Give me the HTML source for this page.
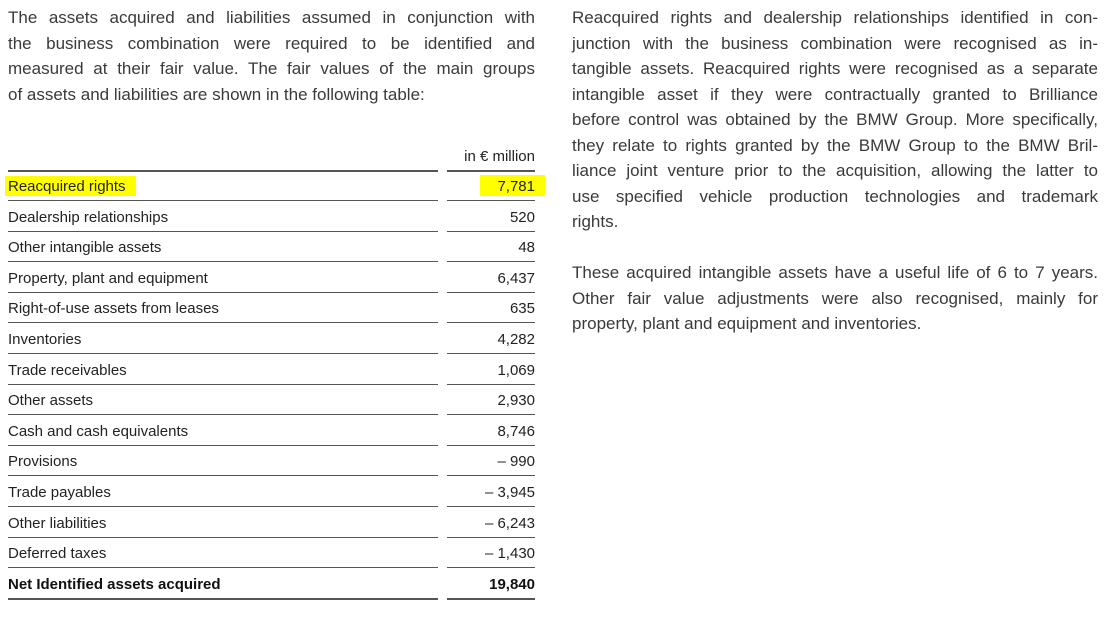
<!DOCTYPE html>
<html><head><meta charset="utf-8"><style>
body{margin:0;width:1110px;height:617px;background:#fff;font-family:"Liberation Sans",sans-serif;color:#333;position:relative;overflow:hidden}
.p{position:absolute;font-size:17px;line-height:25.5px;color:#3a3a3a}
.p span{display:block;text-align:justify;text-align-last:justify;white-space:nowrap}
.p span.l{text-align-last:left}
.row{position:absolute;left:8px;width:527px;height:30px;font-size:15px;color:#222}
.lab{position:absolute;left:0;top:0}
.val{position:absolute;right:0;top:0}
.ln{position:absolute;height:1px;background:#555}
</style></head><body>
<div class="p" style="left:8px;top:5px;width:527px">
<span>The assets acquired and liabilities assumed in conjunction with</span>
<span>the business combination were required to be identified and</span>
<span>measured at their fair value. The fair values of the main groups</span>
<span class="l">of assets and liabilities are shown in the following table:</span>
</div>
<div class="p" style="left:572px;top:5px;width:526px">
<span>Reacquired rights and dealership relationships identified in con-</span>
<span>junction with the business combination were recognised as in-</span>
<span>tangible assets. Reacquired rights were recognised as a separate</span>
<span>intangible asset if they were contractually granted to Brilliance</span>
<span>before control was obtained by the BMW Group. More specifically,</span>
<span>they relate to rights granted by the BMW Group to the BMW Bril-</span>
<span>liance joint venture prior to the acquisition, allowing the latter to</span>
<span>use specified vehicle production technologies and trademark</span>
<span class="l">rights.</span>
<span class="l">&nbsp;</span>
<span>These acquired intangible assets have a useful life of 6 to 7 years.</span>
<span>Other fair value adjustments were also recognised, mainly for</span>
<span class="l">property, plant and equipment and inventories.</span>
</div>
<div class="row" style="top:148px"><span class="val">in € million</span></div>
<div class="ln" style="left:8px;width:430px;top:170px;height:2px"></div>
<div class="ln" style="left:447px;width:88px;top:170px;height:2px"></div>
<div style="position:absolute;left:5px;top:176px;width:131px;height:20px;background:#ffff00"></div>
<div style="position:absolute;left:480px;top:175px;width:65px;height:21px;background:#ffff00"></div>
<div id="rows"></div>
<script>
var d=[["Reacquired rights","7,781"],["Dealership relationships","520"],["Other intangible assets","48"],["Property, plant and equipment","6,437"],["Right-of-use assets from leases","635"],["Inventories","4,282"],["Trade receivables","1,069"],["Other assets","2,930"],["Cash and cash equivalents","8,746"],["Provisions","– 990"],["Trade payables","– 3,945"],["Other liabilities","– 6,243"],["Deferred taxes","– 1,430"],["Net Identified assets acquired","19,840"]];
var h="";
d.forEach(function(r,i){var y=178+i*30.6;var b=i==13?"font-weight:bold;color:#111;":"";
h+='<div class="row" style="top:'+y+'px;'+b+'"><span class="lab">'+r[0]+'</span><span class="val">'+r[1]+'</span></div>';
var ly=Math.round(y+22),hh=i==13?2:1;
h+='<div class="ln" style="left:8px;width:430px;top:'+ly+'px;height:'+hh+'px"></div><div class="ln" style="left:447px;width:88px;top:'+ly+'px;height:'+hh+'px"></div>';});
document.getElementById("rows").innerHTML=h;
</script>
</body></html>
